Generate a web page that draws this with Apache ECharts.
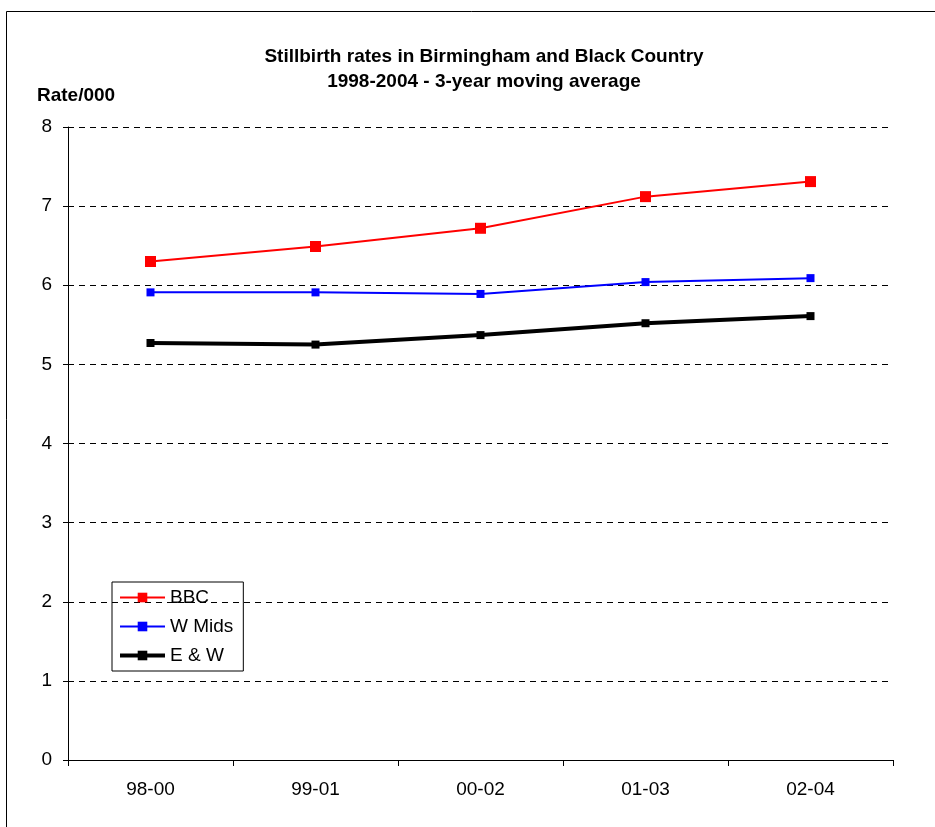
<!DOCTYPE html>
<html><head><meta charset="utf-8">
<script src="https://cdn.jsdelivr.net/npm/echarts@6/dist/echarts.min.js"></script>
<style>html,body{margin:0;padding:0;background:#fff}#c{width:935px;height:827px}</style>
</head><body><div id="c"></div>
<script>
const categories = ['98-00','99-01','00-02','01-03','02-04'];
const bbc = [6.30, 6.49, 6.72, 7.12, 7.31];
const wMids = [5.91, 5.91, 5.89, 6.04, 6.09];
const eAndW = [5.27, 5.25, 5.37, 5.52, 5.61];
const FONT = '"Liberation Sans", Arial, sans-serif';
const chart = echarts.init(document.getElementById('c'), null, {renderer:'canvas'});
chart.setOption({
  animation:false,
  backgroundColor:'#fff',
  graphic:[{type:'rect',shape:{x:6.5,y:11.5,width:1000,height:900},style:{fill:'none',stroke:'#000',lineWidth:1},silent:true}],
  title:{text:'Stillbirth rates in Birmingham and Black Country\n1998-2004 - 3-year moving average',left:479,textAlign:'center',top:39,
    textStyle:{fontFamily:FONT,fontSize:19,fontWeight:'bold',color:'#000',lineHeight:25}},
  legend:{orient:'vertical',left:112,top:582,itemWidth:45,itemHeight:12,itemGap:10,
    borderColor:'#000',borderWidth:1,padding:[6,10,6,6],
    lineStyle:{width:'inherit'},
    textStyle:{fontFamily:FONT,fontSize:19,color:'#000'},
    data:['BBC','W Mids','E & W']},
  grid:{left:68,right:42,top:127,bottom:67,containLabel:false},
  xAxis:{type:'category',data:categories,boundaryGap:true,
    axisLine:{lineStyle:{color:'#000',width:1}},
    axisTick:{show:true,length:6,lineStyle:{color:'#000'}},
    axisLabel:{fontFamily:FONT,fontSize:19,color:'#000',margin:20},
    splitLine:{show:false}},
  yAxis:{type:'value',min:0,max:8,interval:1,name:'Rate/000',nameLocation:'end',nameGap:22,
    nameTextStyle:{fontFamily:FONT,fontSize:19,fontWeight:'bold',color:'#000',align:'left',padding:[0,0,0,-31]},
    axisLine:{show:true,lineStyle:{color:'#000',width:1}},
    axisTick:{show:true,length:5,lineStyle:{color:'#000'}},
    axisLabel:{fontFamily:FONT,fontSize:19,color:'#000',margin:16},
    splitLine:{show:true,lineStyle:{color:'#000',type:[6,5],width:1}}},
  series:[
    {name:'BBC',type:'line',data:bbc,color:'#ff0000',symbol:'rect',symbolSize:11,
      lineStyle:{width:2,color:'#ff0000'},itemStyle:{color:'#ff0000'}},
    {name:'W Mids',type:'line',data:wMids,color:'#0000ff',symbol:'rect',symbolSize:8,
      lineStyle:{width:2,color:'#0000ff'},itemStyle:{color:'#0000ff'}},
    {name:'E & W',type:'line',data:eAndW,color:'#000',symbol:'rect',symbolSize:8,
      lineStyle:{width:4,color:'#000'},itemStyle:{color:'#000'}}
  ]
});
</script></body></html>
